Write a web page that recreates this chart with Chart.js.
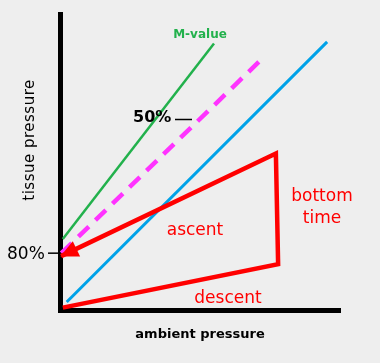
<!DOCTYPE html>
<html>
<head>
<meta charset="utf-8">
<script src="https://cdn.jsdelivr.net/npm/chart.js@4.4.0/dist/chart.umd.min.js"></script>
<style>
  html, body { margin: 0; padding: 0; background: #eeeeee; }
  #wrap { width: 380px; height: 363px; }
</style>
</head>
<body>
<div id="wrap"><canvas id="chart" width="380" height="363"></canvas></div>
<script>
// ambient pressure (x) vs tissue pressure (y), arbitrary units 0..10
const mValueX = [0.1, 5.5];
const mValueY = [2.4, 9.0];
const gf50X = [0.05, 7.1];
const gf50Y = [1.92, 8.38];
const ambientX = [0.24, 9.54];
const ambientY = [0.27, 9.06];
// dive profile: start -> end of descent -> end of bottom time -> end of ascent
const diveX = [0.1, 7.79, 7.71, 0.04];
const diveY = [0.08, 1.55, 5.29, 1.82];

const axisTitles = ['ambient pressure', 'tissue pressure'];
const gfLabels = ['50%', '80%'];
const lineLabel = 'M-value';
const phaseLabels = ['ascent', 'bottom', 'time', 'descent'];

const RED = '#ff0000';
const GREEN = '#22b14c';
const MAGENTA = '#ff33ff';
const BLUE = '#00a2e8';
const FONT = '"DejaVu Sans", Verdana, sans-serif';

const pts = (xs, ys) => xs.map((x, i) => ({ x: x, y: ys[i] }));

const extras = {
    id: 'extras',
    afterDatasetsDraw(chart) {
        const ctx = chart.ctx;
        const ys = chart.scales.y;

        // arrow head at the end of the ascent
        const meta = chart.getDatasetMeta(0);
        const n = meta.data.length;
        const tip = meta.data[n - 1], prev = meta.data[n - 2];
        const a = Math.atan2(tip.y - prev.y, tip.x - prev.x);
        ctx.save();
        ctx.fillStyle = RED;
        ctx.translate(tip.x, tip.y);
        ctx.rotate(a);
        ctx.beginPath();
        ctx.moveTo(1, 0);
        ctx.lineTo(-17, -8.5);
        ctx.lineTo(-17, 8.5);
        ctx.closePath();
        ctx.fill();
        ctx.restore();

        ctx.save();
        ctx.textBaseline = 'alphabetic';

        // M-value label
        ctx.fillStyle = GREEN;
        ctx.font = 'bold 12px ' + FONT;
        ctx.textAlign = 'center';
        ctx.fillText(lineLabel, 200, 38);

        // gradient factor labels
        ctx.fillStyle = '#000';
        ctx.strokeStyle = '#000';
        ctx.lineWidth = 1.5;
        ctx.textAlign = 'left';
        ctx.font = 'bold 16px ' + FONT;
        ctx.fillText(gfLabels[0], 133, 122);
        ctx.beginPath();
        ctx.moveTo(175, 119.5);
        ctx.lineTo(192, 119.5);
        ctx.stroke();

        ctx.font = '17px ' + FONT;
        ctx.fillText(gfLabels[1], 7, 259);
        const y80 = ys.getPixelForValue(gf50Y[0]);
        ctx.beginPath();
        ctx.moveTo(48, y80);
        ctx.lineTo(59, y80);
        ctx.stroke();

        // dive phase labels
        ctx.fillStyle = RED;
        ctx.textAlign = 'center';
        ctx.font = '17px ' + FONT;
        ctx.fillText(phaseLabels[0], 195, 235);
        ctx.fillText(phaseLabels[1], 322, 201);
        ctx.fillText(phaseLabels[2], 322, 223);
        ctx.fillText(phaseLabels[3], 228, 303);

        // axis titles
        ctx.fillStyle = '#000';
        ctx.font = 'bold 13px ' + FONT;
        ctx.fillText(axisTitles[0], 200, 338);

        ctx.font = '15px ' + FONT;
        ctx.letterSpacing = '0.5px';
        ctx.textBaseline = 'middle';
        ctx.translate(30, 140);
        ctx.rotate(-Math.PI / 2);
        ctx.fillText(axisTitles[1], 0, 0);
        ctx.restore();
    }
};

const axis = {
    type: 'linear',
    min: 0,
    max: 10,
    grid: { display: false },
    ticks: { display: false },
    border: { display: true, color: '#000', width: 5 }
};

new Chart(document.getElementById('chart'), {
    type: 'scatter',
    data: {
        datasets: [
            {
                label: 'dive profile',
                data: pts(diveX, diveY),
                showLine: true,
                borderColor: RED,
                borderWidth: 4.5,
                borderJoinStyle: 'miter',
                pointRadius: 0,
                clip: false
            },
            {
                label: 'M-value',
                data: pts(mValueX, mValueY),
                showLine: true,
                borderColor: GREEN,
                borderWidth: 2.5,
                pointRadius: 0,
                clip: false
            },
            {
                label: '50%',
                data: pts(gf50X, gf50Y),
                showLine: true,
                borderColor: MAGENTA,
                borderWidth: 4.5,
                borderDash: [14.5, 9.2],
                pointRadius: 0,
                clip: false
            },
            {
                label: 'ambient',
                data: pts(ambientX, ambientY),
                showLine: true,
                borderColor: BLUE,
                borderWidth: 3,
                pointRadius: 0,
                clip: false
            }
        ]
    },
    options: {
        responsive: false,
        animation: false,
        layout: { padding: { left: 52, top: 14, right: 40, bottom: 45 } },
        plugins: {
            legend: { display: false },
            tooltip: { enabled: false }
        },
        scales: {
            x: axis,
            y: axis
        }
    },
    plugins: [extras]
});
</script>
</body>
</html>
